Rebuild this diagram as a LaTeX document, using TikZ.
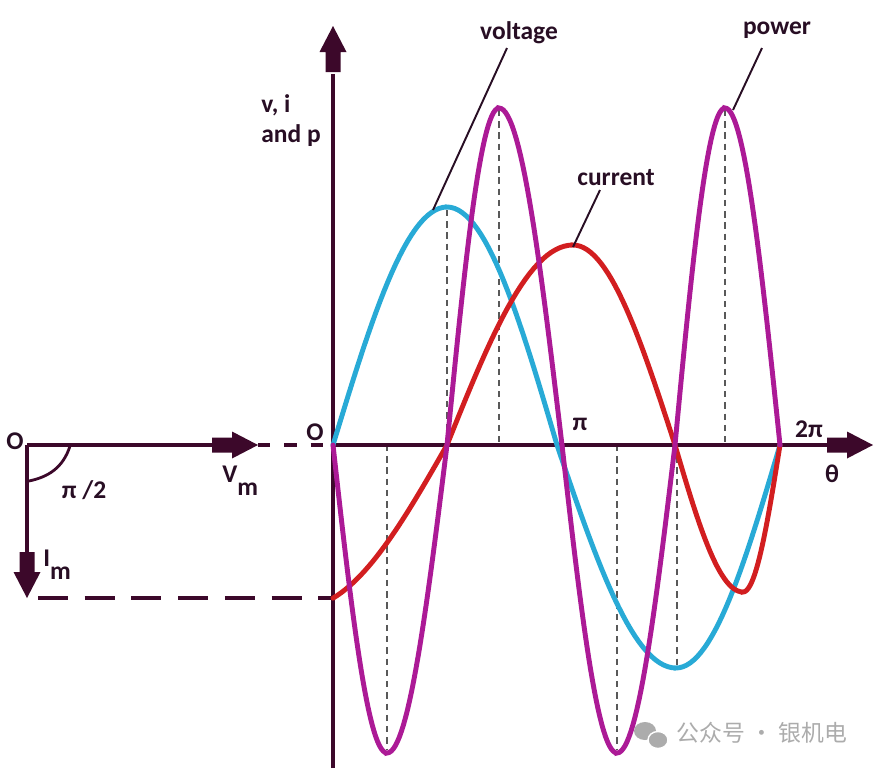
\documentclass[tikz,border=0pt]{standalone}
\usepackage{fontspec}
\setmainfont{Carlito}
\newfontfamily\cjkfont{Noto Sans CJK SC}
\usepackage{xcolor}
\usetikzlibrary{positioning}
\definecolor{axiscol}{RGB}{60,8,42}
\definecolor{textcol}{RGB}{40,14,36}
\definecolor{voltcol}{RGB}{40,170,214}
\definecolor{currcol}{RGB}{210,30,32}
\definecolor{powcol}{RGB}{172,26,150}
\definecolor{wmcol}{RGB}{172,172,172}
\tikzset{
    axis-line/.style = {draw=axiscol, line width=2pt},
    voltage-curve/.style = {draw=voltcol, line width=2.8pt, line cap=round},
    current-curve/.style = {draw=currcol, line width=2.8pt, line cap=round},
    power-curve/.style = {draw=powcol, line width=2.8pt, line cap=round},
    guide/.style = {draw=black!65, line width=1.3pt, dash pattern=on 3.6pt off 2.8pt},
    leader/.style = {draw=textcol, line width=1.1pt},
    lbl/.style = {text=textcol, font=\bfseries\fontsize{14.5}{17.5}\selectfont, inner sep=0pt},
    fatarrow/.pic = {\fill[axiscol] (0,-7.5) -- (20,-7.5) -- (20,-13.5) -- (46,0) -- (20,13.5) -- (20,7.5) -- (0,7.5) -- cycle;},
}

\begin{document}
\begin{tikzpicture}[x=0.02cm, y=-0.02cm]
\useasboundingbox[fill=white] (0,0) rectangle (876,768);

% guide lines
\draw[guide] (387,445) -- (387,750);
\draw[guide] (447,210) -- (447,445);
\draw[guide] (499,110) -- (499,445);
\draw[guide] (617,445) -- (617,750);
\draw[guide] (677,445) -- (677,668);
\draw[guide] (725,110) -- (725,445);

% axes
\draw[axis-line] (333,768) -- (333,74);
\pic[rotate=90] at (333,72) {fatarrow};
\draw[axis-line] (333,445) -- (829,445);
\pic at (827,445) {fatarrow};

% phasor diagram
\draw[axis-line] (27,445) -- (214,445);
\pic at (212,445) {fatarrow};
\draw[axis-line, dash pattern=on 7pt off 8pt] (258,445) -- (333,445);
\draw[axis-line] (27,445) -- (27,554);
\pic[rotate=-90] at (27,552) {fatarrow};
\draw[axis-line, dash pattern=on 17pt off 9.6pt] (38,598) -- (333,598);
\draw[axis-line, line width=1.6pt] (70,446) .. controls (63,468) and (48,477) .. (29,481);

% voltage
\draw[voltage-curve] plot[domain=0:90, samples=30] ({333+114*\x/90},{445-238*sin(\x)})
    -- plot[domain=90:180, samples=30] ({447+110*(\x-90)/90},{445-238*sin(\x)})
    -- plot[domain=180:270, samples=30] ({557+119*(\x-180)/90},{445-223*sin(\x)})
    -- plot[domain=270:360, samples=30] ({676+104*(\x-270)/90},{445-223*sin(\x)});

% current
\draw[current-curve] plot[domain=-70:0, samples=30] ({333+114*(\x+70)/70},{445-163*sin(\x)})
    -- plot[domain=0:90, samples=30] ({447+126*\x/90},{445-200*sin(\x)})
    -- plot[domain=90:180, samples=30] ({573+102*(\x-90)/90},{445-200*sin(\x)})
    -- plot[domain=180:270, samples=30] ({675+68*(\x-180)/90},{445-147*sin(\x)})
    -- plot[domain=270:360, samples=30] ({743+37*(\x-270)/90},{445-147*sin(\x)});

% power
\foreach \xa/\xb/\xc/\amp in {333/387/447/-308, 447/499/562/337, 562/617/675/-308, 675/725/780/337}
    \draw[power-curve] plot[domain=0:90, samples=30] ({\xa+(\xb-\xa)*\x/90},{445-\amp*sin(\x)})
        -- plot[domain=90:180, samples=30] ({\xb+(\xc-\xb)*(\x-90)/90},{445-\amp*sin(\x)});

% labels
\node[lbl] (lblvoltage) at (519,33) {voltage};
\node[lbl] (lblcurrent) at (616,178) {current};
\node[lbl] (lblpower) at (777,30) {power};
\node[lbl, align=left, anchor=north west] (lblaxis) at (261,94) {v, i\\and p};
\node[lbl] (lblorigin) at (315,432) {O};
\node[lbl] (lblpi) at (580,424) {π};
\node[lbl] (lbltwopi) at (809,429) {2π};
\node[lbl] (lbltheta) at (832,474) {θ};
\node[lbl] (lblo) at (15,441) {O};
\node[lbl] (lblangle) at (84,490) {π /2};
\node[lbl, anchor=west] (lblvm) at (222,481) {V\raisebox{-0.5em}{m}};
\node[lbl, anchor=west] (lblim) at (43,565) {I\raisebox{-0.5em}{m}};

\coordinate (vpeak) at (433,210);
\coordinate (vtag) at (507,48);
\coordinate (ipeak) at (573,247);
\coordinate (itag) at (600,190);
\coordinate (ppeak) at (733,110);
\coordinate (ptag) at (762,48);
\draw[leader] (vpeak) -- (vtag);
\draw[leader] (ipeak) -- (itag);
\draw[leader] (ppeak) -- (ptag);

% watermark
\fill[wmcol] (645,731) ellipse [x radius=11, y radius=9];
\filldraw[fill=wmcol, draw=white, line width=0.8pt] (658,740) ellipse [x radius=10, y radius=8.5];
\node[text=wmcol, font=\cjkfont\fontsize{13}{13}\selectfont, inner sep=0pt] (wmtext) at (762,733) {公众号 · 银机电};
\end{tikzpicture}
\end{document}
